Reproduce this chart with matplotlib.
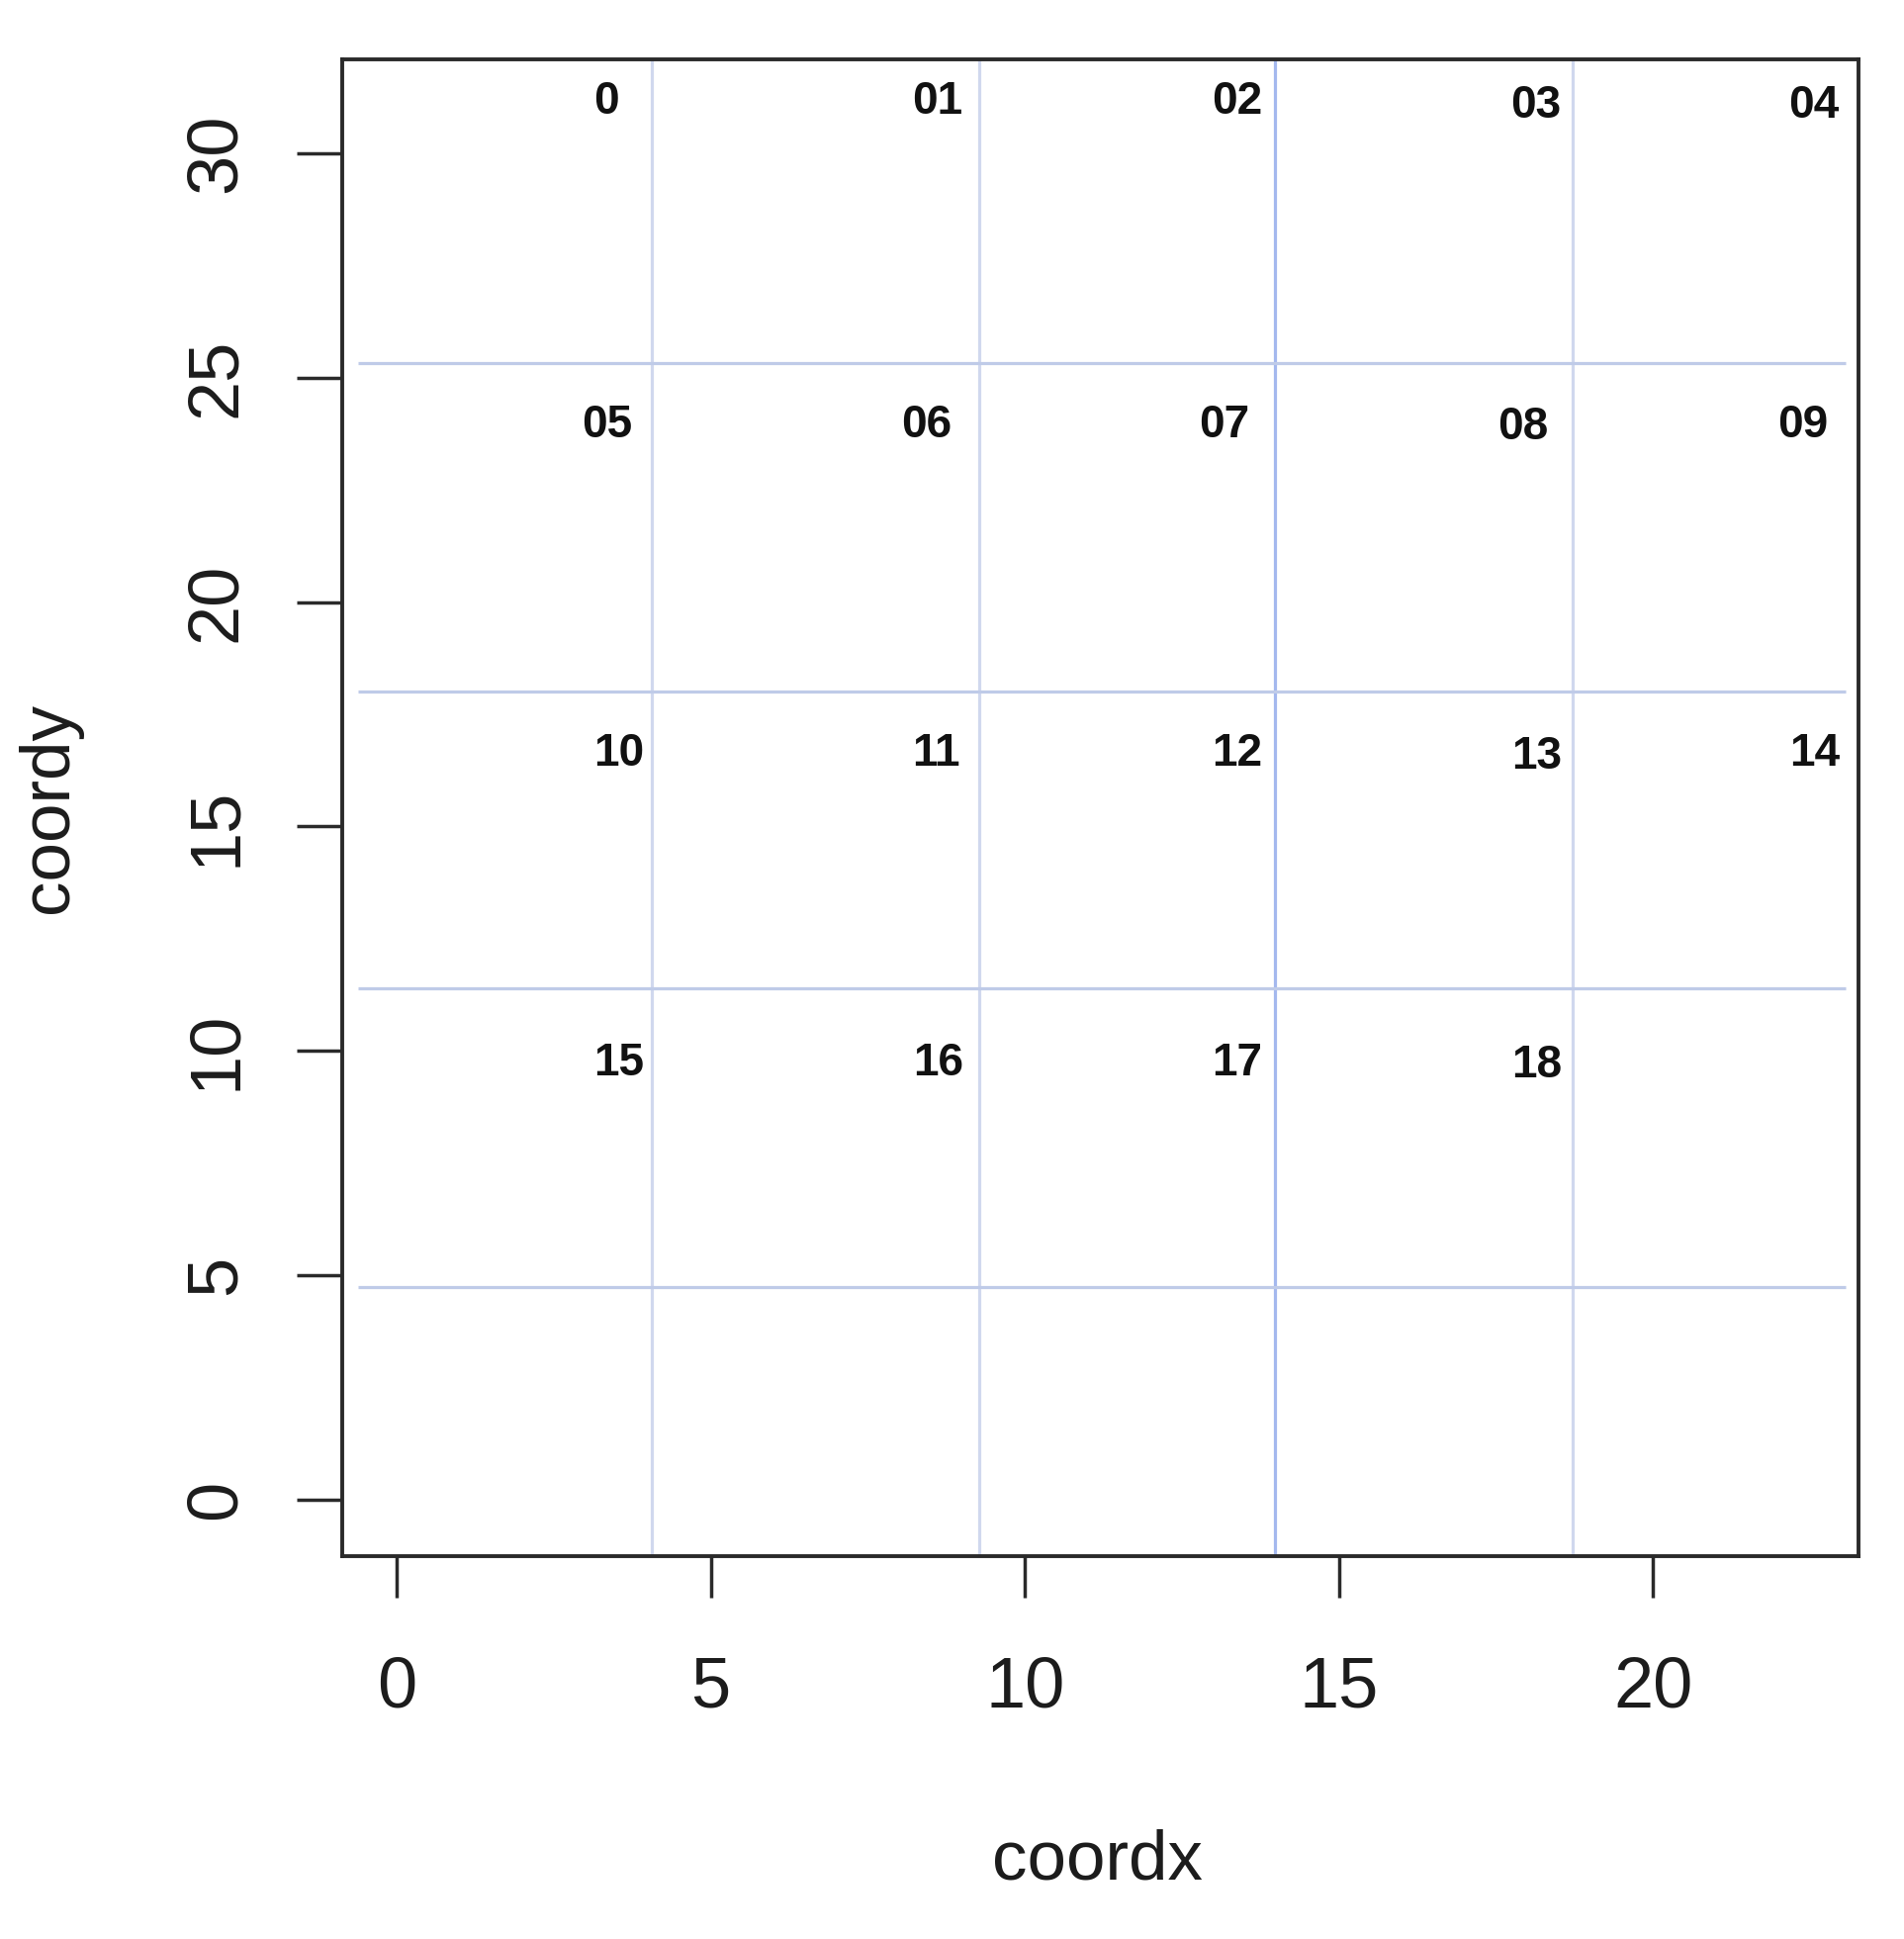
import matplotlib
matplotlib.use("Agg")
import matplotlib.pyplot as plt

plt.rcParams["font.family"] = ["Liberation Sans", "DejaVu Sans"]

# cell labels and their positions (data coords)
cell_labels = ["0", "01", "02", "03", "04",
               "05", "06", "07", "08", "09",
               "10", "11", "12", "13", "14",
               "15", "16", "17", "18"]
cell_x = [3.33, 8.60, 13.37, 18.13, 22.56,
          3.35, 8.43, 13.17, 17.93, 22.38,
          3.54, 8.58, 13.37, 18.15, 22.58,
          3.54, 8.62, 13.37, 18.15]
cell_y = [31.15, 31.15, 31.15, 31.06, 31.06,
          23.95, 23.95, 23.95, 23.89, 23.95,
          16.61, 16.61, 16.61, 16.55, 16.61,
          9.71, 9.71, 9.71, 9.66]

# grid cut lines
vline_x = [4.06, 9.27, 13.98, 18.72]
vline_colors = ["#d0d8ee", "#d0d8ee", "#a4b8ee", "#d0d8ee"]
hline_y = [25.32, 18.01, 11.39, 4.74]
hline_xmin = -0.61
hline_xmax = 23.07

x_ticks = [0, 5, 10, 15, 20]
y_ticks = [0, 5, 10, 15, 20, 25, 30]

TEXT_COLOR = "#1c1c1c"

fig = plt.figure(figsize=(19.25, 19.6), dpi=100)
ax = fig.add_axes([0.1797, 0.1974, 0.7964, 0.7720])

for x, c in zip(vline_x, vline_colors):
    ax.axvline(x, color=c, linewidth=2.3, zorder=1)
ax.hlines(hline_y, hline_xmin, hline_xmax, color="#bfcbe8", linewidth=2.3, zorder=1)

for lab, x, y in zip(cell_labels, cell_x, cell_y):
    ax.text(x, y, lab, ha="center", va="center", fontsize=33,
            fontweight="bold", color="#111111", zorder=3)

ax.set_xlim(-0.87, 23.27)
ax.set_ylim(-1.27, 32.1)
ax.set_xticks(x_ticks)
ax.set_yticks(y_ticks)

for side in ["left", "right", "top", "bottom"]:
    ax.spines[side].set_linewidth(2.8)
    ax.spines[side].set_color("#2a2a2a")

ax.tick_params(axis="x", length=30, width=2.5, pad=42, labelsize=52,
               color="#2a2a2a", labelcolor=TEXT_COLOR)
ax.tick_params(axis="y", length=33, width=2.5, pad=34, labelsize=52,
               color="#2a2a2a", labelcolor=TEXT_COLOR)
for lab in ax.get_yticklabels():
    lab.set_rotation(90)
    lab.set_va("center")

ax.set_xlabel("coordx", fontsize=51, color=TEXT_COLOR, va="center")
ax.xaxis.set_label_coords(0.498, -0.2036)
ax.set_ylabel("coordy", fontsize=51, color=TEXT_COLOR, va="center")
ax.yaxis.set_label_coords(-0.193, 0.4997)

fig.savefig("out.png", dpi=100, facecolor="white")
